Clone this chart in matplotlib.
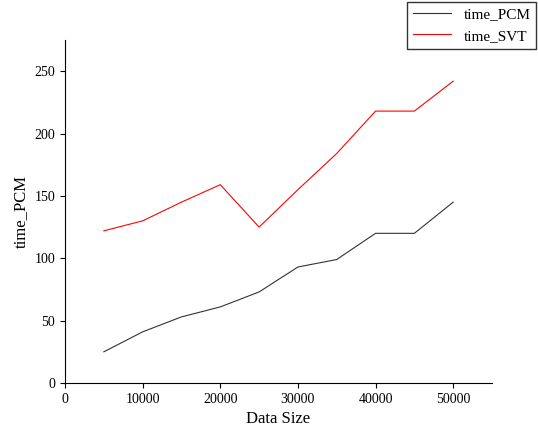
import matplotlib.pyplot as plt

# ---- data ----
data_size = [5000, 10000, 15000, 20000, 25000, 30000, 35000, 40000, 45000, 50000]
time_pcm = [25, 41, 53, 61, 73, 93, 99, 120, 120, 145]
time_svt = [122, 130, 145, 159, 125, 155, 184, 218, 218, 242]

plt.rcParams['font.family'] = ['Liberation Serif', 'DejaVu Serif']

fig = plt.figure(figsize=(5.38, 4.34), dpi=100)
ax = fig.add_axes([65 / 538, 1 - 383 / 434, (492 - 65) / 538, (383 - 40) / 434])

ax.plot(data_size, time_pcm, color='#333333', lw=0.8, label='time_PCM')
ax.plot(data_size, time_svt, color='red', lw=0.8, label='time_SVT')

ax.set_xlim(0, 55000)
ax.set_ylim(0, 275)
ax.set_xticks(range(0, 50001, 10000))
ax.set_yticks(range(0, 251, 50))
ax.spines['top'].set_visible(False)
ax.spines['right'].set_visible(False)
ax.tick_params(labelsize=10)
ax.set_xlabel('Data Size', fontsize=12)
ax.set_ylabel('time_PCM', fontsize=12)

fig.legend(loc='upper right', bbox_to_anchor=(1.0, 1.0), fontsize=11,
           frameon=True, fancybox=False, edgecolor='black', handlelength=2.5,
           borderaxespad=0.1)

plt.savefig('out.png', dpi=100)
